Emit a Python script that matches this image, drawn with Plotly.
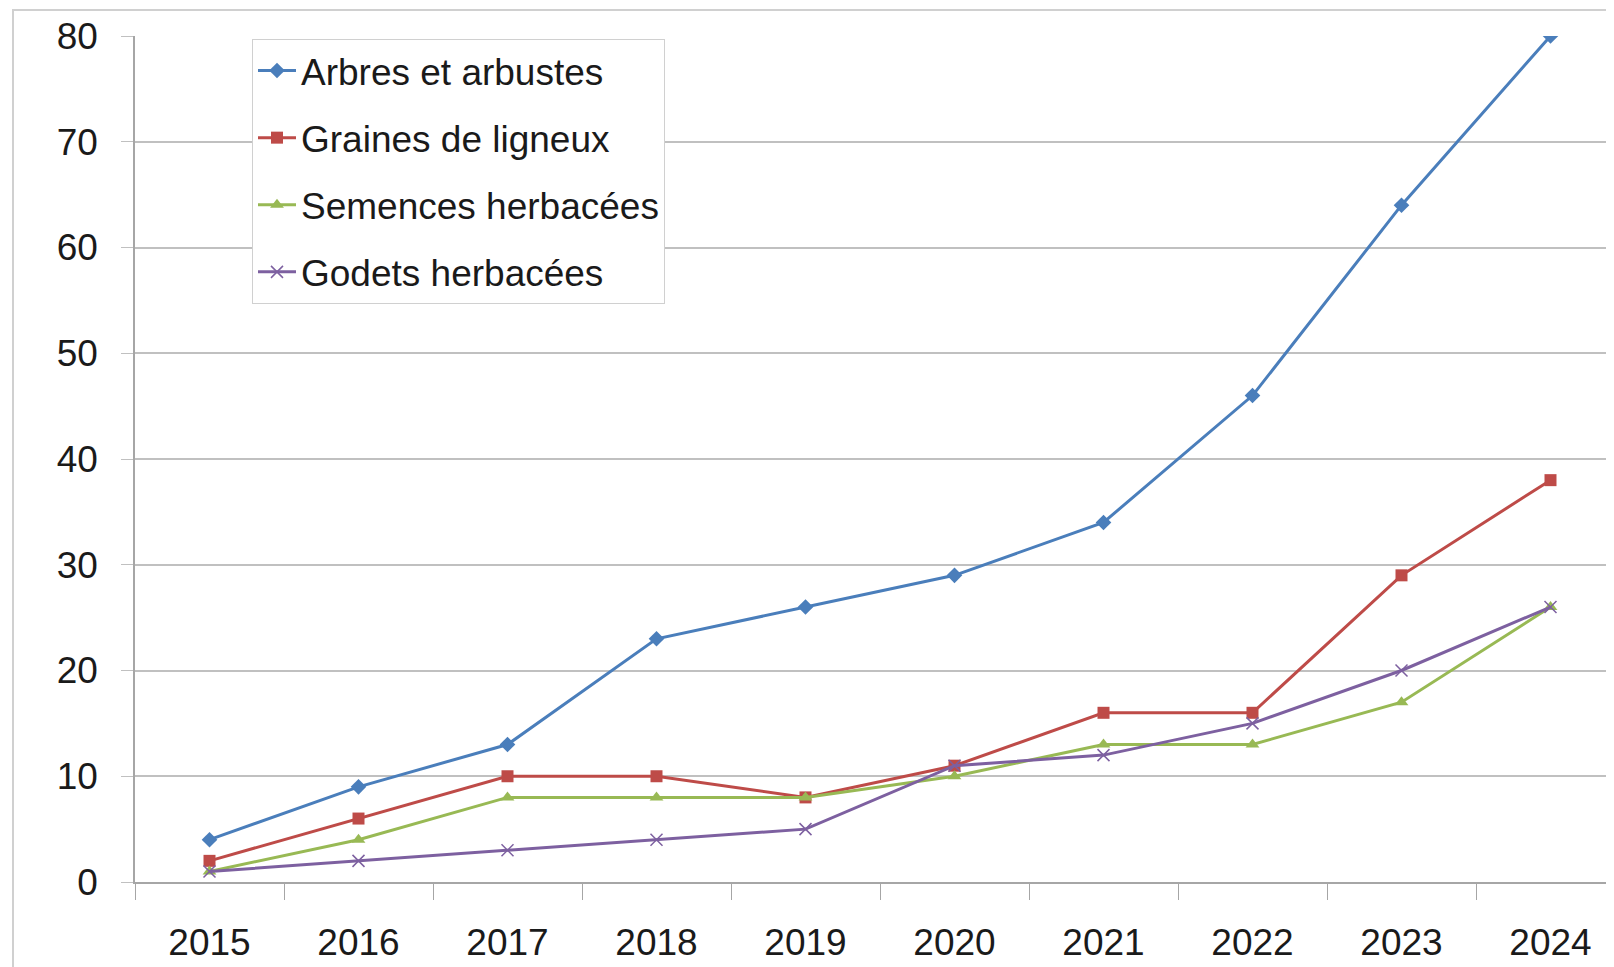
import plotly.graph_objects as go

years = ["2015", "2016", "2017", "2018", "2019", "2020", "2021", "2022", "2023", "2024"]
arbres = [4, 9, 13, 23, 26, 29, 34, 46, 64, 80]
graines = [2, 6, 10, 10, 8, 11, 16, 16, 29, 38]
semences = [1, 4, 8, 8, 8, 10, 13, 13, 17, 26]
godets = [1, 2, 3, 4, 5, 11, 12, 15, 20, 26]
y_ticks = [0, 10, 20, 30, 40, 50, 60, 70, 80]

W, H = 1614, 967
OFF = 8  # page body margin offset
# plot area in page pixels: left 135, top 36, bottom 882, right 1614
L = 135 - OFF
T = 36 - OFF
B = H - (882 - OFF)
R = W - (1614 - OFF)
pw, ph = W - L - R, H - T - B

def px_x(x):
    return (x - OFF - L) / pw

def px_y(y):
    return (H - B - (y - OFF)) / ph

FONT = "Liberation Sans, Arial, sans-serif"

series = [
    ("Arbres et arbustes", arbres, "#4a7ebb", "diamond", 12),
    ("Graines de ligneux", graines, "#be4b48", "square", 12),
    ("Semences herbacées", semences, "#98b954", "triangle-up", 12),
    ("Godets herbacées", godets, "#7d60a0", "x-thin", 12),
]

fig = go.Figure()
for i, (name, vals, col, sym, sz) in enumerate(series):
    mk = dict(symbol=sym, size=sz, color=col)
    if sym == "x-thin":
        mk["line"] = dict(color=col, width=1.5)
    fig.add_trace(go.Scatter(
        x=years, y=vals, name=name, mode="lines+markers",
        line=dict(color=col, width=3), marker=mk, legendgroup=f"g{i}",
    ))

# right edge of plot cuts the last category slot
xmax = 9.5 - (1625 - 1614) / 149.0

fig.update_layout(
    width=W, height=H,
    margin=dict(l=L, r=R, t=T, b=B),
    paper_bgcolor="white", plot_bgcolor="white",
    font=dict(family=FONT, size=37, color="#1a1a1a"),
    showlegend=True,
    legend=dict(
        x=px_x(252), y=px_y(39), xanchor="left", yanchor="top",
        bgcolor="white", bordercolor="#d0d0d0", borderwidth=1,
        font=dict(family=FONT, size=37, color="#1a1a1a"),
        tracegroupgap=16, itemwidth=38,
    ),
    xaxis=dict(
        type="category", range=[-0.5, xmax], showgrid=False,
        showline=True, linecolor="#a6a6a6", linewidth=1.5,
        ticks="outside", tickson="boundaries", ticklen=16, tickcolor="#a6a6a6",
        tickfont=dict(family=FONT, size=37, color="#1a1a1a"),
        ticklabelstandoff=27,
    ),
    yaxis=dict(
        range=[0, 80], tickvals=y_ticks, showgrid=True, gridcolor="#c0c0c0", gridwidth=1.5,
        showline=True, linecolor="#a6a6a6", linewidth=1.5,
        ticks="outside", ticklen=12, tickcolor="#c0c0c0",
        tickfont=dict(family=FONT, size=37, color="#1a1a1a"),
        ticklabelstandoff=16, zeroline=False,
    ),
    shapes=[dict(
        type="rect", xref="paper", yref="paper",
        x0=px_x(13), x1=px_x(1640), y0=px_y(1000), y1=px_y(10),
        line=dict(color="#d0d0d0", width=2), fillcolor="rgba(0,0,0,0)", layer="below",
    )],
)

fig.write_html("out.html")
